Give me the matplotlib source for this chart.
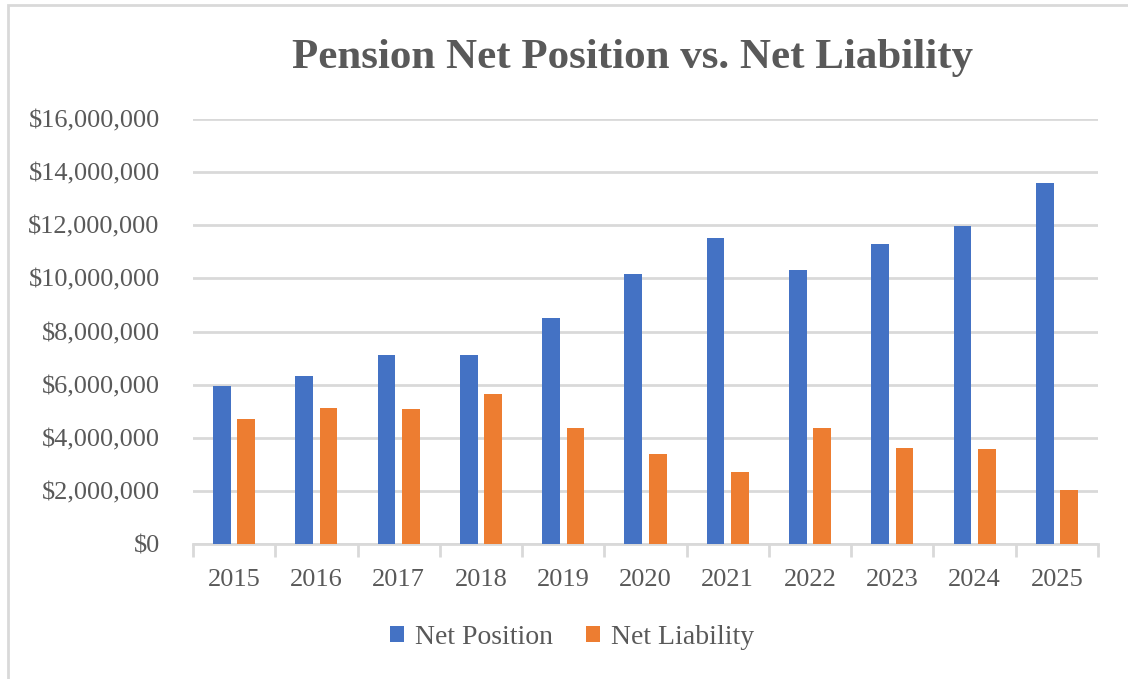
import matplotlib
matplotlib.use("Agg")
import matplotlib.pyplot as plt
import numpy as np
from matplotlib.ticker import FuncFormatter, FixedLocator
from matplotlib.patches import Rectangle

years = ["2015", "2016", "2017", "2018", "2019", "2020", "2021", "2022", "2023", "2024", "2025"]
net_position = [5950000, 6330000, 7130000, 7130000, 8500000, 10150000, 11530000, 10330000, 11300000, 11990000, 13590000]
net_liability = [4720000, 5120000, 5070000, 5640000, 4380000, 3400000, 2710000, 4380000, 3630000, 3570000, 2030000]

plt.rcParams['font.family'] = ['Liberation Serif', 'DejaVu Serif']
text_color = "#595959"
blue = "#4472C4"
orange = "#ED7D31"

fig = plt.figure(figsize=(11.28, 6.79), dpi=100)
fig.patch.set_facecolor("white")
# outer frame
fig.patches.append(Rectangle((8/1128, -0.01), 1.2, 1 - 5/679 + 0.01, transform=fig.transFigure,
                             fill=False, edgecolor="#d9d9d9", linewidth=2))

ax = fig.add_axes([193/1128, 1 - 544/679, 905/1128, 425/679])
x = np.arange(len(years))
w = 0.215
off = 0.148
ax.bar(x - off, net_position, width=w, color=blue, label="Net Position", zorder=3)
ax.bar(x + off, net_liability, width=w, color=orange, label="Net Liability", zorder=3)

ax.set_xlim(-0.5, len(years) - 0.5)
ax.set_ylim(0, 16000000)
ax.set_yticks(np.arange(0, 16000001, 2000000))
ax.yaxis.set_major_formatter(FuncFormatter(lambda v, p: "${:,.0f}".format(v)))
ax.grid(axis="y", color="#d9d9d9", linewidth=2, zorder=0)
ax.set_axisbelow(True)

for s in ["top", "right", "left"]:
    ax.spines[s].set_visible(False)
ax.spines["bottom"].set_color("#d9d9d9")
ax.spines["bottom"].set_linewidth(2)

ax.set_xticks(x)
ax.set_xticklabels(years)
ax.tick_params(axis="x", which="major", length=0, labelsize=19, labelcolor=text_color, pad=18)
ax.xaxis.set_minor_locator(FixedLocator(np.arange(-0.5, len(years), 1)))
ax.tick_params(axis="x", which="minor", length=9, width=2, color="#d9d9d9")
ax.tick_params(axis="y", length=0, labelsize=19, labelcolor=text_color, pad=24)

fig.text(633/1128, 1 - 58/679, "Pension Net Position vs. Net Liability", ha="center", va="center",
         fontsize=31, fontweight="bold", color=text_color)

leg = fig.legend(loc="center", bbox_to_anchor=(572/1128, 1 - 637/679), ncol=2, frameon=False,
                 fontsize=20, handlelength=0.5, handleheight=0.5, handletextpad=0.4, columnspacing=1.2)
for t in leg.get_texts():
    t.set_color(text_color)

fig.savefig("out.png", dpi=100)
